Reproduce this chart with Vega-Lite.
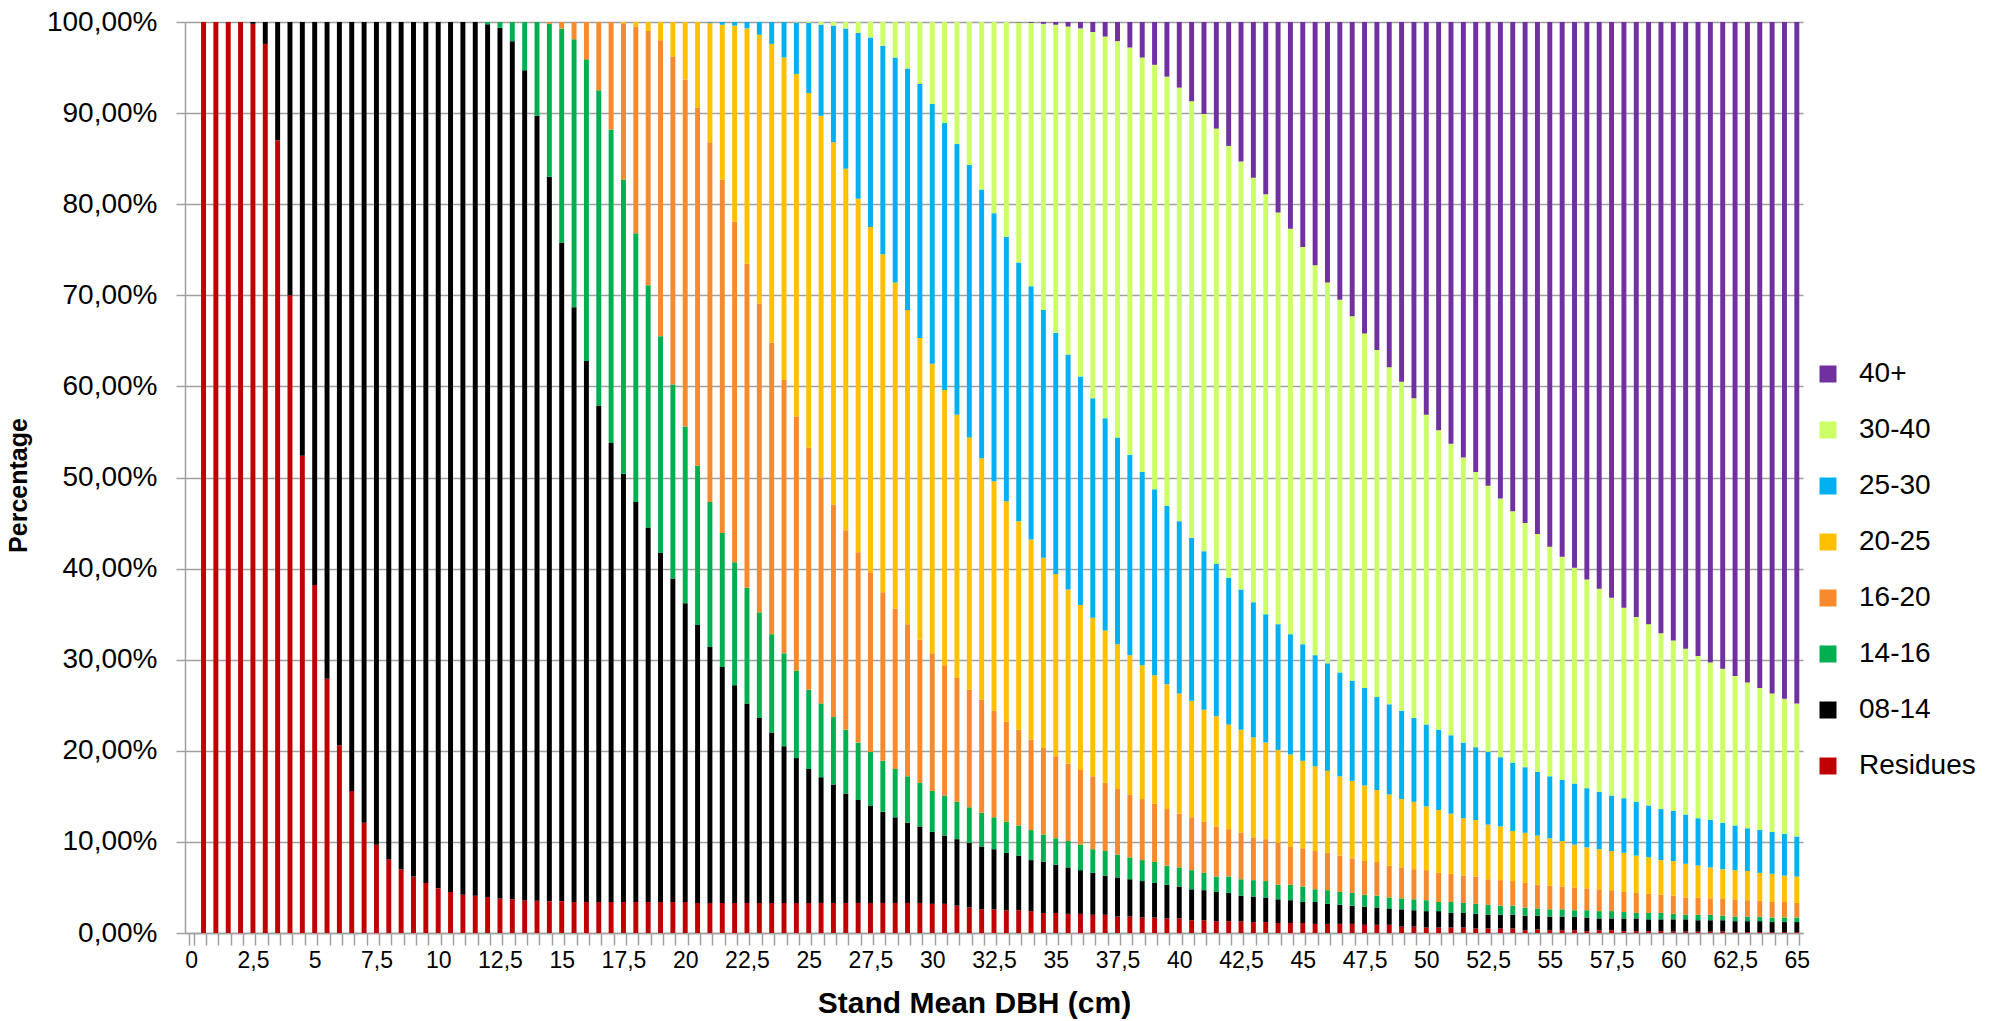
{
  "$schema": "https://vega.github.io/schema/vega-lite/v6.json",
  "width": 1618,
  "height": 911,
  "autosize": {"type": "none"},
  "padding": {"left": 185, "top": 22, "right": 187, "bottom": 88},
  "background": "white",
  "datasets": {
    "bars": [
      {"d":0,"r":0,"a":0,"b":0,"c":0,"e":0,"f":0,"g":0,"h":0},
      {"d":0.5,"r":100,"a":0,"b":0,"c":0,"e":0,"f":0,"g":0,"h":0},
      {"d":1,"r":100,"a":0,"b":0,"c":0,"e":0,"f":0,"g":0,"h":0},
      {"d":1.5,"r":100,"a":0,"b":0,"c":0,"e":0,"f":0,"g":0,"h":0},
      {"d":2,"r":100,"a":0,"b":0,"c":0,"e":0,"f":0,"g":0,"h":0},
      {"d":2.5,"r":99.8,"a":0.2,"b":0,"c":0,"e":0,"f":0,"g":0,"h":0},
      {"d":3,"r":97.6,"a":2.4,"b":0,"c":0,"e":0,"f":0,"g":0,"h":0},
      {"d":3.5,"r":87.0,"a":13.0,"b":0,"c":0,"e":0,"f":0,"g":0,"h":0},
      {"d":4,"r":70.0,"a":30.0,"b":0,"c":0,"e":0,"f":0,"g":0,"h":0},
      {"d":4.5,"r":52.4,"a":47.6,"b":0,"c":0,"e":0,"f":0,"g":0,"h":0},
      {"d":5,"r":38.2,"a":61.8,"b":0,"c":0,"e":0,"f":0,"g":0,"h":0},
      {"d":5.5,"r":27.9,"a":72.1,"b":0,"c":0,"e":0,"f":0,"g":0,"h":0},
      {"d":6,"r":20.6,"a":79.4,"b":0,"c":0,"e":0,"f":0,"g":0,"h":0},
      {"d":6.5,"r":15.6,"a":84.4,"b":0,"c":0,"e":0,"f":0,"g":0,"h":0},
      {"d":7,"r":12.1,"a":87.9,"b":0,"c":0,"e":0,"f":0,"g":0,"h":0},
      {"d":7.5,"r":9.7,"a":90.3,"b":0,"c":0,"e":0,"f":0,"g":0,"h":0},
      {"d":8,"r":8.1,"a":91.9,"b":0,"c":0,"e":0,"f":0,"g":0,"h":0},
      {"d":8.5,"r":7.0,"a":93.0,"b":0,"c":0,"e":0,"f":0,"g":0,"h":0},
      {"d":9,"r":6.2,"a":93.8,"b":0,"c":0,"e":0,"f":0,"g":0,"h":0},
      {"d":9.5,"r":5.5,"a":94.5,"b":0,"c":0,"e":0,"f":0,"g":0,"h":0},
      {"d":10,"r":4.9,"a":95.1,"b":0,"c":0,"e":0,"f":0,"g":0,"h":0},
      {"d":10.5,"r":4.5,"a":95.5,"b":0,"c":0,"e":0,"f":0,"g":0,"h":0},
      {"d":11,"r":4.2,"a":95.8,"b":0,"c":0,"e":0,"f":0,"g":0,"h":0},
      {"d":11.5,"r":4.1,"a":95.9,"b":0,"c":0,"e":0,"f":0,"g":0,"h":0},
      {"d":12,"r":3.95,"a":95.8,"b":0.25,"c":0,"e":0,"f":0,"g":0,"h":0},
      {"d":12.5,"r":3.8,"a":95.55,"b":0.65,"c":0,"e":0,"f":0,"g":0,"h":0},
      {"d":13,"r":3.7,"a":94.2,"b":2.1,"c":0,"e":0,"f":0,"g":0,"h":0},
      {"d":13.5,"r":3.6,"a":91.1,"b":5.3,"c":0,"e":0,"f":0,"g":0,"h":0},
      {"d":14,"r":3.55,"a":86.15,"b":10.3,"c":0,"e":0,"f":0,"g":0,"h":0},
      {"d":14.5,"r":3.5,"a":79.5,"b":16.8,"c":0.2,"e":0,"f":0,"g":0,"h":0},
      {"d":15,"r":3.5,"a":72.3,"b":23.5,"c":0.7,"e":0,"f":0,"g":0,"h":0},
      {"d":15.5,"r":3.4,"a":65.3,"b":29.4,"c":1.9,"e":0,"f":0,"g":0,"h":0},
      {"d":16,"r":3.4,"a":59.4,"b":33.1,"c":4.1,"e":0,"f":0,"g":0,"h":0},
      {"d":16.5,"r":3.4,"a":54.5,"b":34.6,"c":7.5,"e":0,"f":0,"g":0,"h":0},
      {"d":17,"r":3.4,"a":50.4,"b":34.4,"c":11.8,"e":0,"f":0,"g":0,"h":0},
      {"d":17.5,"r":3.4,"a":47.0,"b":32.3,"c":17.15,"e":0.15,"f":0,"g":0,"h":0},
      {"d":18,"r":3.4,"a":43.9,"b":29.5,"c":22.7,"e":0.5,"f":0,"g":0,"h":0},
      {"d":18.5,"r":3.4,"a":41.1,"b":26.6,"c":27.9,"e":1.0,"f":0,"g":0,"h":0},
      {"d":19,"r":3.4,"a":38.3,"b":23.8,"c":32.5,"e":2.0,"f":0,"g":0,"h":0},
      {"d":19.5,"r":3.4,"a":35.5,"b":21.3,"c":36.0,"e":3.8,"f":0,"g":0,"h":0},
      {"d":20,"r":3.4,"a":32.8,"b":19.4,"c":38.1,"e":6.3,"f":0,"g":0,"h":0},
      {"d":20.5,"r":3.3,"a":30.5,"b":17.5,"c":39.3,"e":9.4,"f":0,"g":0,"h":0},
      {"d":21,"r":3.3,"a":28.1,"b":15.9,"c":39.5,"e":13.1,"f":0.1,"g":0,"h":0},
      {"d":21.5,"r":3.3,"a":25.9,"b":14.7,"c":38.8,"e":17.0,"f":0.3,"g":0,"h":0},
      {"d":22,"r":3.3,"a":23.9,"b":13.5,"c":37.4,"e":21.5,"f":0.4,"g":0,"h":0},
      {"d":22.5,"r":3.3,"a":21.9,"b":12.7,"c":35.6,"e":25.8,"f":0.7,"g":0,"h":0},
      {"d":23,"r":3.3,"a":20.3,"b":11.6,"c":33.9,"e":29.5,"f":1.4,"g":0,"h":0},
      {"d":23.5,"r":3.3,"a":18.7,"b":10.8,"c":32.0,"e":32.8,"f":2.4,"g":0,"h":0},
      {"d":24,"r":3.3,"a":17.2,"b":10.2,"c":30.0,"e":35.4,"f":3.9,"g":0,"h":0},
      {"d":24.5,"r":3.3,"a":15.9,"b":9.6,"c":27.9,"e":37.6,"f":5.65,"g":0.05,"h":0},
      {"d":25,"r":3.3,"a":14.7,"b":8.7,"c":26.6,"e":38.9,"f":7.7,"g":0.1,"h":0},
      {"d":25.5,"r":3.3,"a":13.8,"b":8.1,"c":24.8,"e":39.7,"f":10.0,"g":0.3,"h":0},
      {"d":26,"r":3.3,"a":13.0,"b":7.4,"c":23.3,"e":39.8,"f":12.8,"g":0.4,"h":0},
      {"d":26.5,"r":3.3,"a":12.0,"b":7.0,"c":21.9,"e":39.7,"f":15.4,"g":0.7,"h":0},
      {"d":27,"r":3.3,"a":11.3,"b":6.3,"c":20.9,"e":38.8,"f":18.2,"g":1.2,"h":0},
      {"d":27.5,"r":3.3,"a":10.7,"b":5.9,"c":19.7,"e":37.9,"f":20.8,"g":1.7,"h":0},
      {"d":28,"r":3.3,"a":10.0,"b":5.6,"c":18.5,"e":37.1,"f":22.9,"g":2.6,"h":0},
      {"d":28.5,"r":3.3,"a":9.4,"b":5.3,"c":17.6,"e":35.8,"f":24.7,"g":3.9,"h":0},
      {"d":29,"r":3.3,"a":8.8,"b":5.1,"c":16.7,"e":34.5,"f":26.5,"g":5.1,"h":0},
      {"d":29.5,"r":3.3,"a":8.4,"b":4.8,"c":15.7,"e":33.1,"f":27.9,"g":6.8,"h":0},
      {"d":30,"r":3.2,"a":7.9,"b":4.5,"c":15.1,"e":31.8,"f":28.5,"g":9.0,"h":0},
      {"d":30.5,"r":3.2,"a":7.5,"b":4.4,"c":14.3,"e":30.2,"f":29.3,"g":11.1,"h":0},
      {"d":31,"r":3.0,"a":7.3,"b":4.1,"c":13.6,"e":28.9,"f":29.7,"g":13.4,"h":0},
      {"d":31.5,"r":2.8,"a":7.1,"b":3.9,"c":12.9,"e":27.7,"f":29.9,"g":15.7,"h":0},
      {"d":32,"r":2.6,"a":6.9,"b":3.7,"c":12.4,"e":26.5,"f":29.5,"g":18.4,"h":0},
      {"d":32.5,"r":2.6,"a":6.6,"b":3.5,"c":11.7,"e":25.2,"f":29.4,"g":21.0,"h":0},
      {"d":33,"r":2.5,"a":6.3,"b":3.4,"c":11.0,"e":24.2,"f":29.0,"g":23.6,"h":0},
      {"d":33.5,"r":2.5,"a":6.0,"b":3.3,"c":10.5,"e":22.9,"f":28.4,"g":26.35,"h":0.05},
      {"d":34,"r":2.4,"a":5.6,"b":3.3,"c":9.9,"e":22.0,"f":27.8,"g":28.9,"h":0.1},
      {"d":34.5,"r":2.2,"a":5.6,"b":3.0,"c":9.5,"e":20.9,"f":27.2,"g":31.4,"h":0.2},
      {"d":35,"r":2.2,"a":5.3,"b":2.9,"c":9.0,"e":20.0,"f":26.5,"g":33.8,"h":0.3},
      {"d":35.5,"r":2.1,"a":5.1,"b":2.9,"c":8.5,"e":19.1,"f":25.8,"g":36.0,"h":0.5},
      {"d":36,"r":2.1,"a":4.8,"b":2.8,"c":8.2,"e":18.1,"f":25.1,"g":38.2,"h":0.7},
      {"d":36.5,"r":2.0,"a":4.6,"b":2.6,"c":8.0,"e":17.4,"f":24.1,"g":40.2,"h":1.1},
      {"d":37,"r":2.0,"a":4.3,"b":2.7,"c":7.5,"e":16.7,"f":23.3,"g":41.9,"h":1.6},
      {"d":37.5,"r":1.8,"a":4.3,"b":2.5,"c":7.2,"e":15.9,"f":22.7,"g":43.5,"h":2.1},
      {"d":38,"r":1.8,"a":4.1,"b":2.4,"c":6.9,"e":15.3,"f":22.0,"g":44.7,"h":2.8},
      {"d":38.5,"r":1.7,"a":4.0,"b":2.3,"c":6.7,"e":14.7,"f":21.2,"g":45.5,"h":3.9},
      {"d":39,"r":1.7,"a":3.8,"b":2.3,"c":6.4,"e":14.1,"f":20.4,"g":46.6,"h":4.7},
      {"d":39.5,"r":1.6,"a":3.7,"b":2.1,"c":6.2,"e":13.7,"f":19.6,"g":47.1,"h":6.0},
      {"d":40,"r":1.6,"a":3.5,"b":2.1,"c":5.9,"e":13.2,"f":18.9,"g":47.6,"h":7.2},
      {"d":40.5,"r":1.4,"a":3.4,"b":2.1,"c":5.8,"e":12.8,"f":17.9,"g":47.9,"h":8.7},
      {"d":41,"r":1.4,"a":3.3,"b":1.9,"c":5.6,"e":12.3,"f":17.4,"g":48.0,"h":10.1},
      {"d":41.5,"r":1.3,"a":3.2,"b":1.7,"c":5.5,"e":12.1,"f":16.7,"g":47.8,"h":11.7},
      {"d":42,"r":1.3,"a":3.1,"b":1.8,"c":5.2,"e":11.5,"f":16.1,"g":47.4,"h":13.6},
      {"d":42.5,"r":1.3,"a":2.8,"b":1.8,"c":5.1,"e":11.3,"f":15.4,"g":47.0,"h":15.3},
      {"d":43,"r":1.2,"a":2.8,"b":1.8,"c":4.7,"e":11.0,"f":14.8,"g":46.6,"h":17.1},
      {"d":43.5,"r":1.2,"a":2.7,"b":1.8,"c":4.6,"e":10.6,"f":14.1,"g":46.1,"h":18.9},
      {"d":44,"r":1.1,"a":2.6,"b":1.6,"c":4.6,"e":10.2,"f":13.8,"g":45.2,"h":20.9},
      {"d":44.5,"r":1.1,"a":2.5,"b":1.7,"c":4.2,"e":10.1,"f":13.2,"g":44.5,"h":22.7},
      {"d":45,"r":1.1,"a":2.3,"b":1.7,"c":4.2,"e":9.6,"f":12.8,"g":43.6,"h":24.7},
      {"d":45.5,"r":1.0,"a":2.4,"b":1.4,"c":4.2,"e":9.3,"f":12.2,"g":42.8,"h":26.7},
      {"d":46,"r":1.0,"a":2.2,"b":1.5,"c":4.1,"e":9.0,"f":11.8,"g":41.8,"h":28.6},
      {"d":46.5,"r":1.0,"a":2.1,"b":1.4,"c":4.0,"e":8.7,"f":11.4,"g":40.9,"h":30.5},
      {"d":47,"r":1.0,"a":2.0,"b":1.4,"c":3.8,"e":8.5,"f":11.0,"g":40.0,"h":32.3},
      {"d":47.5,"r":0.9,"a":2.0,"b":1.3,"c":3.7,"e":8.3,"f":10.7,"g":38.9,"h":34.2},
      {"d":48,"r":0.9,"a":1.9,"b":1.3,"c":3.7,"e":7.9,"f":10.2,"g":38.1,"h":36.0},
      {"d":48.5,"r":0.9,"a":1.8,"b":1.2,"c":3.5,"e":7.8,"f":9.9,"g":37.0,"h":37.9},
      {"d":49,"r":0.7,"a":1.9,"b":1.2,"c":3.4,"e":7.5,"f":9.7,"g":36.1,"h":39.5},
      {"d":49.5,"r":0.7,"a":1.8,"b":1.2,"c":3.3,"e":7.4,"f":9.2,"g":35.1,"h":41.3},
      {"d":50,"r":0.6,"a":1.8,"b":1.2,"c":3.3,"e":7.0,"f":9.0,"g":34.0,"h":43.1},
      {"d":50.5,"r":0.6,"a":1.8,"b":1.0,"c":3.2,"e":6.9,"f":8.8,"g":32.9,"h":44.8},
      {"d":51,"r":0.6,"a":1.6,"b":1.2,"c":3.1,"e":6.6,"f":8.6,"g":32.0,"h":46.3},
      {"d":51.5,"r":0.6,"a":1.6,"b":1.1,"c":3.0,"e":6.3,"f":8.3,"g":31.3,"h":47.8},
      {"d":52,"r":0.5,"a":1.6,"b":1.1,"c":3.0,"e":6.2,"f":8.0,"g":30.2,"h":49.4},
      {"d":52.5,"r":0.5,"a":1.5,"b":1.1,"c":2.8,"e":6.0,"f":8.0,"g":29.2,"h":50.9},
      {"d":53,"r":0.5,"a":1.5,"b":1.0,"c":2.8,"e":5.9,"f":7.6,"g":28.4,"h":52.3},
      {"d":53.5,"r":0.5,"a":1.5,"b":1.0,"c":2.7,"e":5.5,"f":7.5,"g":27.6,"h":53.7},
      {"d":54,"r":0.3,"a":1.6,"b":0.9,"c":2.7,"e":5.5,"f":7.2,"g":26.8,"h":55.0},
      {"d":54.5,"r":0.4,"a":1.5,"b":0.8,"c":2.6,"e":5.4,"f":7.0,"g":26.1,"h":56.2},
      {"d":55,"r":0.3,"a":1.5,"b":0.8,"c":2.6,"e":5.2,"f":6.8,"g":25.2,"h":57.6},
      {"d":55.5,"r":0.3,"a":1.5,"b":0.8,"c":2.5,"e":5.0,"f":6.7,"g":24.5,"h":58.7},
      {"d":56,"r":0.3,"a":1.5,"b":0.7,"c":2.5,"e":4.7,"f":6.7,"g":23.7,"h":59.9},
      {"d":56.5,"r":0.2,"a":1.5,"b":0.8,"c":2.4,"e":4.5,"f":6.5,"g":22.9,"h":61.2},
      {"d":57,"r":0.3,"a":1.3,"b":0.8,"c":2.4,"e":4.4,"f":6.3,"g":22.3,"h":62.2},
      {"d":57.5,"r":0.3,"a":1.3,"b":0.8,"c":2.3,"e":4.3,"f":6.1,"g":21.7,"h":63.2},
      {"d":58,"r":0.2,"a":1.4,"b":0.7,"c":2.2,"e":4.3,"f":6.0,"g":20.9,"h":64.3},
      {"d":58.5,"r":0.2,"a":1.4,"b":0.6,"c":2.2,"e":4.1,"f":5.9,"g":20.3,"h":65.3},
      {"d":59,"r":0.2,"a":1.3,"b":0.7,"c":2.1,"e":4.0,"f":5.7,"g":19.9,"h":66.1},
      {"d":59.5,"r":0.2,"a":1.3,"b":0.7,"c":2.0,"e":3.8,"f":5.6,"g":19.3,"h":67.1},
      {"d":60,"r":0.15,"a":1.35,"b":0.6,"c":2.0,"e":3.8,"f":5.5,"g":18.7,"h":67.9},
      {"d":60.5,"r":0.15,"a":1.35,"b":0.5,"c":1.9,"e":3.7,"f":5.4,"g":18.2,"h":68.8},
      {"d":61,"r":0.15,"a":1.25,"b":0.6,"c":1.9,"e":3.5,"f":5.2,"g":17.8,"h":69.6},
      {"d":61.5,"r":0.15,"a":1.25,"b":0.6,"c":1.8,"e":3.4,"f":5.2,"g":17.3,"h":70.3},
      {"d":62,"r":0.15,"a":1.25,"b":0.5,"c":1.9,"e":3.2,"f":5.1,"g":16.9,"h":71.0},
      {"d":62.5,"r":0.1,"a":1.2,"b":0.5,"c":1.9,"e":3.2,"f":4.9,"g":16.4,"h":71.8},
      {"d":63,"r":0.1,"a":1.2,"b":0.5,"c":1.8,"e":3.2,"f":4.7,"g":16.0,"h":72.5},
      {"d":63.5,"r":0.1,"a":1.2,"b":0.5,"c":1.7,"e":3.1,"f":4.7,"g":15.6,"h":73.1},
      {"d":64,"r":0.1,"a":1.1,"b":0.5,"c":1.7,"e":3.1,"f":4.6,"g":15.2,"h":73.7},
      {"d":64.5,"r":0.1,"a":1.1,"b":0.5,"c":1.7,"e":2.9,"f":4.6,"g":14.8,"h":74.3},
      {"d":65,"r":0.1,"a":1.1,"b":0.5,"c":1.6,"e":2.9,"f":4.4,"g":14.6,"h":74.8}
    ],
    "classes": [
      {"k":"r","name":"Residues","rank":1},
      {"k":"a","name":"08-14","rank":2},
      {"k":"b","name":"14-16","rank":3},
      {"k":"c","name":"16-20","rank":4},
      {"k":"e","name":"20-25","rank":5},
      {"k":"f","name":"25-30","rank":6},
      {"k":"g","name":"30-40","rank":7},
      {"k":"h","name":"40+","rank":8}
    ]
  },
  "data": {"name": "bars"},
  "transform": [
    {"fold": ["r","a","b","c","e","f","g","h"], "as": ["k","pct"]},
    {"lookup": "k", "from": {"data": {"name": "classes"}, "key": "k", "fields": ["name","rank"]}}
  ],
  "mark": {"type": "bar"},
  "encoding": {
    "x": {
      "field": "d", "type": "ordinal", "sort": "ascending",
      "scale": {"paddingInner": 0.6, "paddingOuter": 0.3},
      "axis": {
        "title": "Stand Mean DBH (cm)",
        "titleFont": "Liberation Sans", "titleFontSize": 30, "titleFontWeight": "bold", "titleColor": "#000000",
        "titleX": 789, "titleY": 70, "titleBaseline": "middle", "titleAlign": "center",
        "labelExpr": "datum.value % 2.5 === 0 ? replace(toString(datum.value), '.', ',') : ''",
        "labelAngle": 0, "labelFont": "Liberation Sans", "labelFontSize": 23, "labelColor": "#000000",
        "labelPadding": 4, "labelOverlap": false, "labelFlush": false,
        "tickBand": "extent", "tickSize": 12, "tickColor": "#A0A0A0", "tickWidth": 1.5,
        "domainColor": "#A0A0A0", "domainWidth": 1.5, "grid": false
      }
    },
    "y": {
      "field": "pct", "type": "quantitative", "stack": "zero",
      "scale": {"domain": [0, 100], "nice": false},
      "axis": {
        "title": "Percentage",
        "titleFont": "Liberation Sans", "titleFontSize": 25, "titleFontWeight": "bold", "titleColor": "#000000",
        "titleX": -167, "titleY": 463, "titleBaseline": "middle", "titleAlign": "center", "titleAngle": -90,
        "values": [0,10,20,30,40,50,60,70,80,90,100],
        "labelExpr": "replace(format(datum.value, '.2f'), '.', ',') + '%'",
        "labelFont": "Liberation Sans", "labelFontSize": 28, "labelColor": "#000000", "labelPadding": 19,
        "tickSize": 9, "tickColor": "#A0A0A0", "tickWidth": 1.5,
        "domainColor": "#A0A0A0", "domainWidth": 1.5,
        "grid": true, "gridColor": "#A0A0A0", "gridWidth": 1.5
      }
    },
    "color": {
      "field": "name", "type": "nominal",
      "scale": {
        "domain": ["40+","30-40","25-30","20-25","16-20","14-16","08-14","Residues"],
        "range": ["#7030A0","#CCFF66","#00B0F0","#FFC000","#F68A2C","#00B050","#000000","#C00000"]
      },
      "legend": {
        "title": null, "orient": "none", "legendX": 1629, "legendY": 338, "padding": 0,
        "labelFont": "Liberation Sans", "labelFontSize": 28, "labelColor": "#000000", "labelOffset": 17,
        "symbolType": "square", "symbolSize": 289, "symbolStrokeWidth": 0, "rowPadding": 28
      }
    },
    "order": {"field": "rank", "type": "quantitative", "sort": "ascending"}
  },
  "config": {"view": {"stroke": null}}
}
